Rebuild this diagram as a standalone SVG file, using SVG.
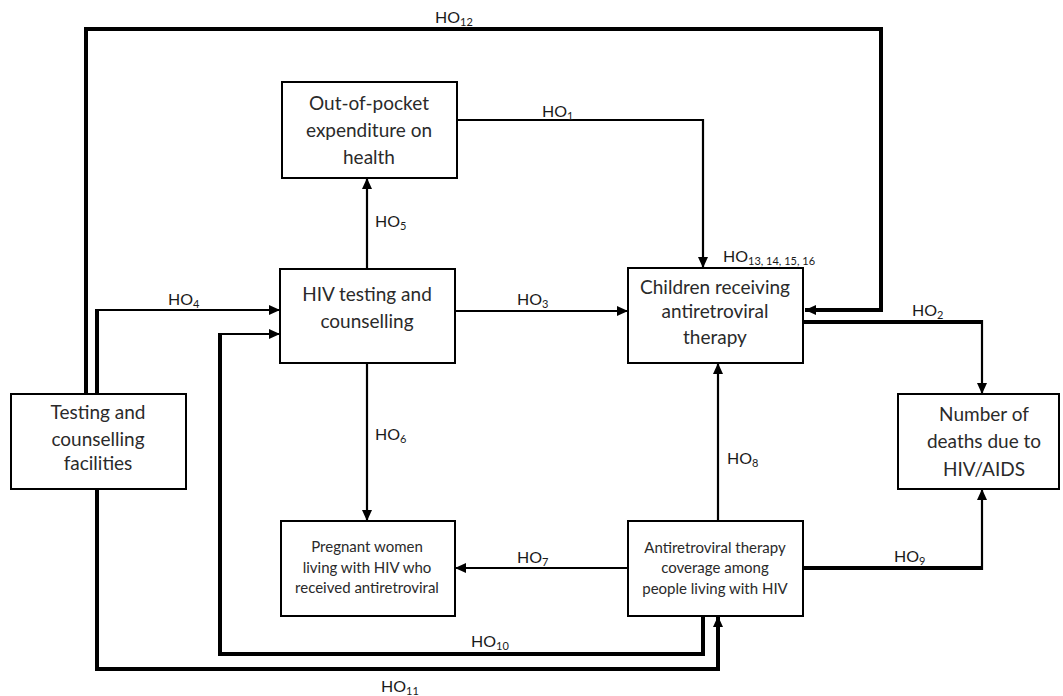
<svg xmlns="http://www.w3.org/2000/svg" width="1063" height="696" viewBox="0 0 1063 696">
<defs>
<style>
.box{fill:#fff;stroke:#000;stroke-width:2}
.nt{font-family:Lato,"Open Sans",sans-serif;font-size:19px;fill:#2a2a2a;text-anchor:middle}
.ns{font-family:Lato,"Open Sans",sans-serif;font-size:15px;fill:#2a2a2a;text-anchor:middle}
.lb{font-family:Lato,"Open Sans",sans-serif;font-size:16px;fill:#1a1a1a}
.sb{font-size:11px}
.c{fill:none;stroke:#000;stroke-linejoin:miter}
.thin{stroke-width:2.2}
.thick{stroke-width:4}
</style>
<marker id="ah" markerUnits="userSpaceOnUse" markerWidth="12" markerHeight="10" refX="11" refY="5" orient="auto">
<path d="M0,0 L11,5 L0,10 Z" fill="#000"/>
</marker>
</defs>
<g id="connectors">
<path class="c thick" d="M86,394 V29 H881 V310 H805" marker-end="url(#ah)"/>
<path class="c thick" d="M97,394 V310"/>
<path class="c thin" d="M95,310 H280" marker-end="url(#ah)"/>
<path class="c thick" d="M97,489 V669 H718 V616"/>
<path class="c thin" d="M718,640 V616" marker-end="url(#ah)"/>
<path class="c thick" d="M703,616 V654 H220 V333"/>
<path class="c thin" d="M218,334 H280" marker-end="url(#ah)"/>
<path class="c thin" d="M457,120 H703 V268" marker-end="url(#ah)"/>
<path class="c thin" d="M367,269 V178" marker-end="url(#ah)"/>
<path class="c thin" d="M455,311 H628" marker-end="url(#ah)"/>
<path class="c thin" d="M367,363 V521" marker-end="url(#ah)"/>
<path class="c thin" d="M628,568 H455" marker-end="url(#ah)"/>
<path class="c thin" d="M718,521 V363" marker-end="url(#ah)"/>
<path class="c thick" d="M803,322 H982"/>
<path class="c thin" d="M982,320 V394" marker-end="url(#ah)"/>
<path class="c thick" d="M803,568 H982"/>
<path class="c thin" d="M982,570 V489" marker-end="url(#ah)"/>
</g>
<g id="labels">
<text class="lb" x="435" y="23">HO<tspan class="sb" dy="3">12</tspan></text>
<text class="lb" x="542" y="117">HO<tspan class="sb" dy="3">1</tspan></text>
<text class="lb" x="375" y="227">HO<tspan class="sb" dy="3">5</tspan></text>
<text class="lb" x="168" y="305">HO<tspan class="sb" dy="3">4</tspan></text>
<text class="lb" x="517" y="305">HO<tspan class="sb" dy="3">3</tspan></text>
<text class="lb" x="723" y="262">HO<tspan class="sb" dy="3">13, 14, 15, 16</tspan></text>
<text class="lb" x="912" y="316">HO<tspan class="sb" dy="3">2</tspan></text>
<text class="lb" x="375" y="440">HO<tspan class="sb" dy="3">6</tspan></text>
<text class="lb" x="727" y="464">HO<tspan class="sb" dy="3">8</tspan></text>
<text class="lb" x="517" y="563">HO<tspan class="sb" dy="3">7</tspan></text>
<text class="lb" x="894" y="562">HO<tspan class="sb" dy="3">9</tspan></text>
<text class="lb" x="471" y="647">HO<tspan class="sb" dy="3">10</tspan></text>
<text class="lb" x="381" y="692">HO<tspan class="sb" dy="3">11</tspan></text>
</g>
<g id="node-oop">
<rect class="box" x="282" y="82" width="175" height="96"/>
<text class="nt" x="369" y="110">Out-of-pocket</text>
<text class="nt" x="369" y="137">expenditure on</text>
<text class="nt" x="369" y="164">health</text>
</g>
<g id="node-hiv">
<rect class="box" x="280" y="269" width="175" height="94"/>
<text class="nt" x="367" y="301">HIV testing and</text>
<text class="nt" x="367" y="328">counselling</text>
</g>
<g id="node-children">
<rect class="box" x="628" y="268" width="175" height="95"/>
<text class="nt" x="715" y="294">Children receiving</text>
<text class="nt" x="715" y="318">antiretroviral</text>
<text class="nt" x="715" y="344">therapy</text>
</g>
<g id="node-testing">
<rect class="box" x="11" y="394" width="175" height="95"/>
<text class="nt" x="98" y="419">Testing and</text>
<text class="nt" x="98" y="446">counselling</text>
<text class="nt" x="98" y="470">facilities</text>
</g>
<g id="node-deaths">
<rect class="box" x="898" y="394" width="161" height="95"/>
<text class="nt" x="984" y="421">Number of</text>
<text class="nt" x="984" y="448">deaths due to</text>
<text class="nt" x="984" y="476">HIV/AIDS</text>
</g>
<g id="node-pregnant">
<rect class="box" x="281" y="521" width="174" height="95"/>
<text class="ns" x="367" y="552">Pregnant women</text>
<text class="ns" x="367" y="573">living with HIV who</text>
<text class="ns" x="367" y="593">received antiretroviral</text>
</g>
<g id="node-art">
<rect class="box" x="628" y="521" width="175" height="95"/>
<text class="ns" x="715" y="553">Antiretroviral therapy</text>
<text class="ns" x="715" y="573">coverage among</text>
<text class="ns" x="715" y="594">people living with HIV</text>
</g>
</svg>
